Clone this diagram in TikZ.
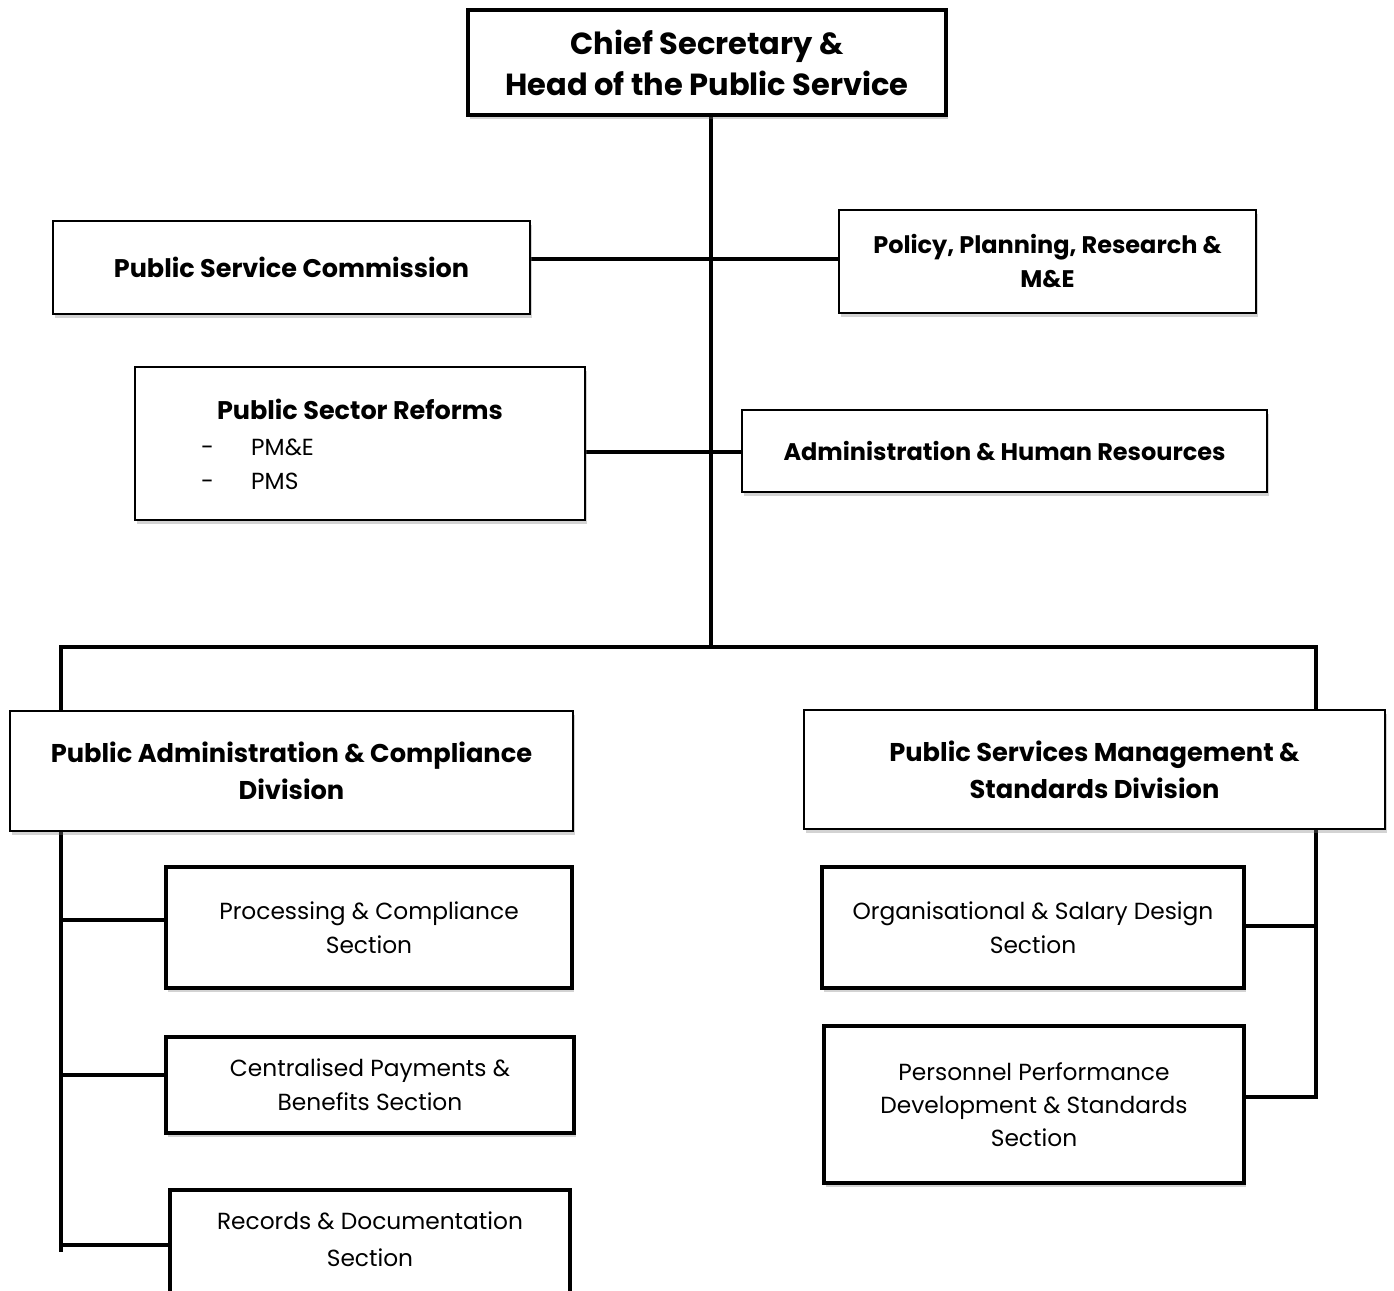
\documentclass[tikz,border=0pt]{standalone}
\usepackage{fontspec}
\setmainfont{Poppins}
\usetikzlibrary{shadows}
\begin{document}
\begin{tikzpicture}[x=1pt,y=-1pt,
  box/.style={draw=black, fill=white, inner sep=0pt, align=center,
    drop shadow={opacity=0.35, shadow xshift=2pt, shadow yshift=-4pt}},
  thinbox/.style={box, line width=1.5pt},
  thickbox/.style={box, line width=4pt},
  wire/.style={line width=4.5pt, line cap=rect},
  headfont/.style={font=\fontsize{30.5}{41}\selectfont\bfseries},
  divfont/.style={font=\fontsize{25.7}{37}\selectfont\bfseries},
  unitfont/.style={font=\fontsize{25.5}{34}\selectfont\bfseries},
  unitsmall/.style={font=\fontsize{24}{34}\selectfont\bfseries},
  secfont/.style={font=\fontsize{23.3}{34}\selectfont}
]
\useasboundingbox (0,0) rectangle (1394,1290);
\clip (0,0) rectangle (1394,1290);

% connectors (drawn first, boxes cover their ends)
\coordinate (top) at (711,115);
\coordinate (mid) at (711,647);
\coordinate (lft) at (61,647);
\coordinate (rgt) at (1316,647);
\coordinate (lend) at (61,1250);
\coordinate (rend) at (1316,1097);
\draw[wire] (top) -- (mid);
\draw[wire] (lft) -- (rgt);
\draw[wire] (lft) -- (lend);
\draw[wire] (rgt) -- (rend);
\draw[wire] (530,259) -- (839,259);
\draw[wire] (585,452) -- (742,452);
\draw[wire] (61,920) -- (166,920);
\draw[wire] (61,1075) -- (166,1075);
\draw[wire] (61,1245) -- (170,1245);
\draw[wire] (1244,926) -- (1316,926);
\draw[wire] (1244,1097) -- (1316,1097);

% head of service
\node[thickbox, headfont, minimum width=478pt, minimum height=105pt] (chief) at (707,62.5)
  {Chief Secretary \&\\Head of the Public Service};

% units attached to the trunk
\node[thinbox, unitfont, minimum width=477pt, minimum height=93pt] (psc) at (291.5,267.5)
  {Public Service Commission};
\node[thinbox, unitsmall, minimum width=417pt, minimum height=103pt] (ppr) at (1047.5,261.5)
  {Policy, Planning, Research \&\\M\&E};
\node[thinbox, minimum width=450pt, minimum height=153pt] (psr) at (360,443.5) {};
\node[unitfont, anchor=base] (psrt) at (360,419) {Public Sector Reforms};
\node[secfont, anchor=base west, inner sep=0pt] (psrd1) at (201,455) {-};
\node[secfont, anchor=base west, inner sep=0pt] (psri1) at (251,455) {PM\&E};
\node[secfont, anchor=base west, inner sep=0pt] (psrd2) at (201,489) {-};
\node[secfont, anchor=base west, inner sep=0pt] (psri2) at (251,489) {PMS};
\node[thinbox, unitsmall, minimum width=525pt, minimum height=82pt] (ahr) at (1004.5,451)
  {Administration \& Human Resources};

% divisions
\node[thinbox, divfont, minimum width=563pt, minimum height=120pt] (pacd) at (291.5,771)
  {Public Administration \& Compliance\\Division};
\node[thinbox, divfont, minimum width=581pt, minimum height=119pt] (psmsd) at (1094.5,769.5)
  {Public Services Management \&\\Standards Division};

% sections
\node[thickbox, secfont, minimum width=406pt, minimum height=121pt] (proc) at (369,927.5)
  {Processing \& Compliance\\Section};
\node[thickbox, secfont, minimum width=408pt, minimum height=96pt] (cent) at (370,1085)
  {Centralised Payments \&\\Benefits Section};
\node[thickbox, minimum width=400pt, minimum height=120pt] (rec) at (370,1250) {};
\node[secfont, anchor=base] (rect) at (370,1229) {Records \& Documentation};
\node[secfont, anchor=base] (rect2) at (370,1266) {Section};
\node[thickbox, secfont, minimum width=422pt, minimum height=121pt] (org) at (1033,927.5)
  {Organisational \& Salary Design\\Section};
\node[thickbox, secfont, font=\fontsize{23.3}{33}\selectfont,
  minimum width=420pt, minimum height=157pt] (pers) at (1034,1104.5)
  {Personnel Performance\\Development \& Standards\\Section};
\end{tikzpicture}
\end{document}
